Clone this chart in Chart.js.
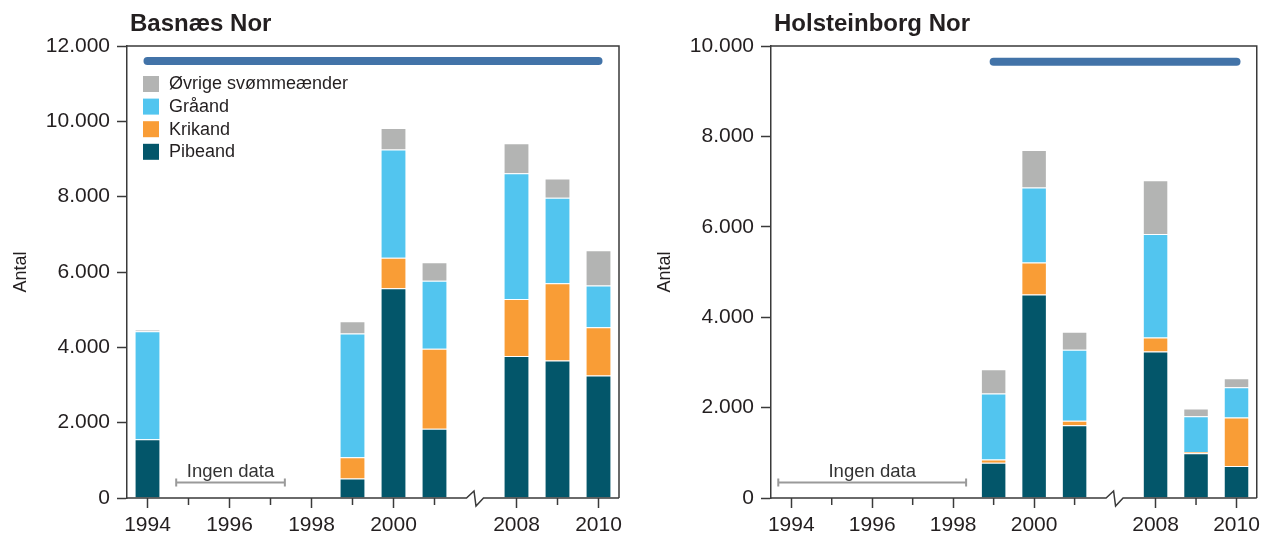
<!DOCTYPE html>
<html><head><meta charset="utf-8">
<script src="https://cdn.jsdelivr.net/npm/chart.js@4.4.1/dist/chart.umd.min.js"></script>
<style>
html,body{margin:0;padding:0;background:#fff;}
#wrap{position:relative;width:1265px;height:537px;overflow:hidden;background:#fff;}
.box{position:absolute;top:0;height:537px;}
#b1{left:0;width:640px;} #b2{left:640px;width:625px;}
</style></head><body>
<div id="wrap">
  <div class="box" id="b1"><canvas id="c1" width="640" height="537"></canvas></div>
  <div class="box" id="b2"><canvas id="c2" width="625" height="537"></canvas></div>
</div>
<script>
// ---- data ----
const categories = ['1994','1995','1996','1997','1998','1999','2000','2001','','2008','2009','2010'];
const seriesNames = ['Pibeand','Krikand','Gråand','Øvrige svømmeænder'];
const seriesColors = ['#03566a','#f99d36','#52c5ef','#b3b4b3'];

const basnaesTitle = 'Basnæs Nor';
const basnaesPibeand = [1560,null,null,null,null,520,5570,1840,null,3770,3650,3250];
const basnaesKrikand = [0,null,null,null,null,560,810,2120,null,1510,2050,1280];
const basnaesGraaand = [2870,null,null,null,null,3290,2870,1810,null,3340,2270,1110];
const basnaesOevrige = [40,null,null,null,null,320,570,490,null,800,510,940];
const basnaesPeriod = ['1994','2010'];
const basnaesPeriodLevel = 11600;
const basnaesNoData = [1994.7, 1997.35];
const basnaesYTicks = [0,2000,4000,6000,8000,10000,12000];

const holsteinTitle = 'Holsteinborg Nor';
const holsteinPibeand = [null,null,null,null,null,780,4500,1610,null,3240,990,710];
const holsteinKrikand = [null,null,null,null,null,70,710,100,null,310,30,1070];
const holsteinGraaand = [null,null,null,null,null,1460,1660,1570,null,2290,790,670];
const holsteinOevrige = [null,null,null,null,null,540,830,400,null,1190,170,200];
const holsteinPeriod = ['1999','2010'];
const holsteinPeriodLevel = 9650;
const holsteinNoData = [1993.68, 1998.32];
const holsteinYTicks = [0,2000,4000,6000,8000,10000];

const yAxisTitle = 'Antal';
const noDataText = 'Ingen data';

// ---- helpers ----
const FONT = "'Liberation Sans', Arial, Helvetica, sans-serif";
const TXT = '#231f20';
const AX = '#3a3a3a';
Chart.defaults.font.family = FONT;
Chart.defaults.color = TXT;

function fmt(v){ return String(v).replace(/\B(?=(\d{3})+(?!\d))/g, '.'); }
function yearToIndex(yr){ return yr - Number(categories[0]); }

const decor = {
  id: 'decor',
  afterDraw(chart, args, o) {
    const {ctx, chartArea: a} = chart;
    const x = chart.scales.x;
    ctx.save();
    ctx.strokeStyle = AX; ctx.lineWidth = 1.5; ctx.lineJoin = 'miter';
    // frame top & right
    ctx.beginPath(); ctx.moveTo(a.left, a.top); ctx.lineTo(a.right, a.top); ctx.lineTo(a.right, a.bottom); ctx.stroke();
    // x axis with break
    const bx = x.getPixelForValue(categories.indexOf(''));
    const yb = a.bottom;
    ctx.beginPath();
    ctx.moveTo(a.left, yb); ctx.lineTo(bx - 9, yb); ctx.lineTo(bx - 1.5, yb - 7);
    ctx.lineTo(bx + 0.5, yb + 8); ctx.lineTo(bx + 8, yb); ctx.lineTo(a.right, yb);
    ctx.stroke();
    // minor ticks (odd years)
    categories.forEach((c, i) => {
      if (c && Number(c) % 2 === 1) {
        const px = x.getPixelForValue(i);
        ctx.beginPath(); ctx.moveTo(px, yb); ctx.lineTo(px, yb + 7); ctx.stroke();
      }
    });
    // no-data marker
    const nd = o.noData;
    if (nd) {
      const x0 = x.getPixelForValue(yearToIndex(nd[0]));
      const x1 = x.getPixelForValue(yearToIndex(nd[1]));
      const ly = yb - 15.5;
      ctx.strokeStyle = '#9a9a9a'; ctx.lineWidth = 2;
      ctx.beginPath(); ctx.moveTo(x0, ly); ctx.lineTo(x1, ly);
      ctx.moveTo(x0, ly - 4); ctx.lineTo(x0, ly + 4);
      ctx.moveTo(x1, ly - 4); ctx.lineTo(x1, ly + 4);
      ctx.stroke();
      ctx.fillStyle = '#333';
      ctx.font = '18.5px ' + FONT;
      ctx.textAlign = 'center'; ctx.textBaseline = 'alphabetic';
      ctx.fillText(noDataText, (x0 + x1) / 2, ly - 6);
    }
    // title
    if (o.title) {
      ctx.fillStyle = TXT;
      ctx.font = 'bold 24px ' + FONT;
      ctx.textAlign = 'left'; ctx.textBaseline = 'alphabetic';
      ctx.fillText(o.title, a.left + 3, 31);
    }
    // legend
    if (o.legend) {
      const bars = chart.data.datasets.filter(d => d.type !== 'line').slice().reverse();
      ctx.font = '18px ' + FONT;
      ctx.textAlign = 'left'; ctx.textBaseline = 'middle';
      bars.forEach((d, i) => {
        const top = a.top + 30 + i * 22.6;
        ctx.fillStyle = d.backgroundColor;
        ctx.fillRect(a.left + 16, top, 16, 16);
        ctx.fillStyle = TXT;
        ctx.fillText(d.label, a.left + 42, top + 8.5);
      });
    }
    ctx.restore();
  }
};

function makeChart(id, title, series, period, level, noData, yTicks, yWidth, padRight, titlePad, legend) {
  const datasets = series.map((vals, i) => ({
    type: 'bar', label: seriesNames[i], data: vals,
    backgroundColor: seriesColors[i], borderColor: 'rgba(255,255,255,0.22)', borderWidth: 1,
    stack: 'ducks', barPercentage: 0.63, categoryPercentage: 1
  }));
  datasets.push({
    type: 'line', label: 'period', stack: 'period',
    data: categories.map(c => (c === period[0] || c === period[1]) ? level : null),
    spanGaps: true, borderColor: '#4273a8', borderWidth: 8, borderCapStyle: 'round',
    pointRadius: 0, fill: false
  });
  return new Chart(document.getElementById(id), {
    data: { labels: categories, datasets },
    options: {
      responsive: false, animation: false, devicePixelRatio: 1,
      layout: { padding: { left: 0, right: padRight, top: 46, bottom: 0 } },
      plugins: {
        legend: { display: false }, tooltip: { enabled: false },
        decor: { title, legend, noData }
      },
      scales: {
        x: {
          type: 'category', stacked: true, offset: true,
          border: { display: false },
          grid: { drawOnChartArea: false, offset: false, tickLength: 10, tickWidth: 1.5,
                  tickColor: (c) => { const l = categories[c.index]; return (l && Number(l) % 2 === 0) ? AX : 'rgba(0,0,0,0)'; } },
          ticks: { autoSkip: false, maxRotation: 0, padding: 5, font: { size: 21 }, color: TXT,
                   callback: function(v, i) { const l = categories[i]; return (l && Number(l) % 2 === 0) ? l : ''; } },
          afterFit: (s) => { s.height = 39; }
        },
        y: {
          stacked: true, min: 0, max: yTicks[yTicks.length - 1],
          afterBuildTicks: (s) => { s.ticks = yTicks.map(v => ({ value: v })); },
          border: { display: true, color: AX, width: 1.5 },
          grid: { drawOnChartArea: false, tickLength: 10, tickWidth: 1.5, tickColor: AX },
          ticks: { padding: 7, font: { size: 21 }, color: TXT, callback: (v) => fmt(v) },
          title: { display: true, text: yAxisTitle, font: { size: 18 }, color: TXT, padding: { top: titlePad, bottom: 0 } },
          afterFit: (s) => { s.width = yWidth; }
        }
      }
    },
    plugins: [decor]
  });
}

makeChart('c1', basnaesTitle, [basnaesPibeand, basnaesKrikand, basnaesGraaand, basnaesOevrige],
  basnaesPeriod, basnaesPeriodLevel, basnaesNoData, basnaesYTicks, 127, 21, 10, true);
makeChart('c2', holsteinTitle, [holsteinPibeand, holsteinKrikand, holsteinGraaand, holsteinOevrige],
  holsteinPeriod, holsteinPeriodLevel, holsteinNoData, holsteinYTicks, 131, 3, 14, false);
</script>
</body></html>
